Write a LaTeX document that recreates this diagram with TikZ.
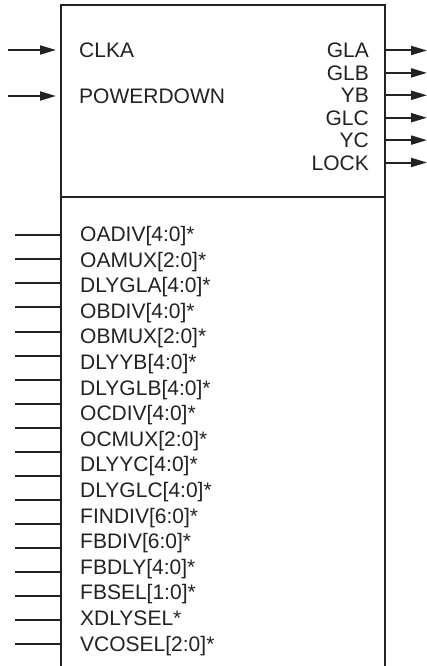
\documentclass[tikz,border=0pt]{standalone}
\usepackage{fontspec}
\setmainfont{Liberation Sans}
\usetikzlibrary{arrows.meta}
\definecolor{ink}{HTML}{222222}
\begin{document}
\begin{tikzpicture}[x=1pt,y=-1pt,
  lbl/.style={font=\fontsize{21}{22}\selectfont, text=ink, inner sep=0pt},
  lleft/.style={lbl, anchor=base west},
  lright/.style={lbl, anchor=base east},
  wire/.style={line width=2pt, draw=ink},
  arr/.style={wire, -{Triangle[length=16pt,width=9pt]}},
]
\useasboundingbox (0,0) rectangle (427,666);
% box
\coordinate (bl) at (61,675);
\coordinate (tl) at (61,5);
\coordinate (tr) at (385,5);
\coordinate (br) at (385,675);
\coordinate (dl) at (61,197);
\coordinate (dr) at (385,197);
\draw[wire] (bl) -- (tl) -- (tr) -- (br);
\draw[wire] (dl) -- (dr);
% inputs with arrows
\foreach \n/\t/\y in {clka/CLKA/50, pwd/POWERDOWN/96}{
  \node[lleft] (\n) at (79,\y+7.5) {\t};
  \coordinate (\n-s) at (8,\y);
  \coordinate (\n-e) at (56,\y);
  \draw[arr] (\n-s) -- (\n-e);
}
% outputs
\foreach \n/\t [count=\i from 0] in {gla/GLA, glb/GLB, yb/YB, glc/GLC, yc/YC, lock/LOCK}{
  \pgfmathsetmacro{\yy}{50.5+22.4*\i}
  \node[lright] (\n) at (369,\yy+7.5) {\t};
  \coordinate (\n-s) at (385,\yy);
  \coordinate (\n-e) at (427,\yy);
  \draw[arr] (\n-s) -- (\n-e);
}
% configuration labels
\foreach \t [count=\i from 0] in {OADIV[4:0]*, OAMUX[2:0]*, DLYGLA[4:0]*, OBDIV[4:0]*, OBMUX[2:0]*, DLYYB[4:0]*, DLYGLB[4:0]*, OCDIV[4:0]*, OCMUX[2:0]*, DLYYC[4:0]*, DLYGLC[4:0]*, FINDIV[6:0]*, FBDIV[6:0]*, FBDLY[4:0]*, FBSEL[1:0]*, XDLYSEL*, VCOSEL[2:0]*}{
  \pgfmathsetmacro{\yy}{234+25.6*\i}
  \node[lleft] (cfg\i) at (80,\yy+7.5) {\t};
}
% configuration pins
\foreach \i in {0,...,17}{
  \pgfmathsetmacro{\yy}{235.3+24.05*\i}
  \coordinate (pin\i-s) at (15,\yy);
  \coordinate (pin\i-e) at (61,\yy);
  \draw[wire] (pin\i-s) -- (pin\i-e);
}
\end{tikzpicture}
\end{document}
